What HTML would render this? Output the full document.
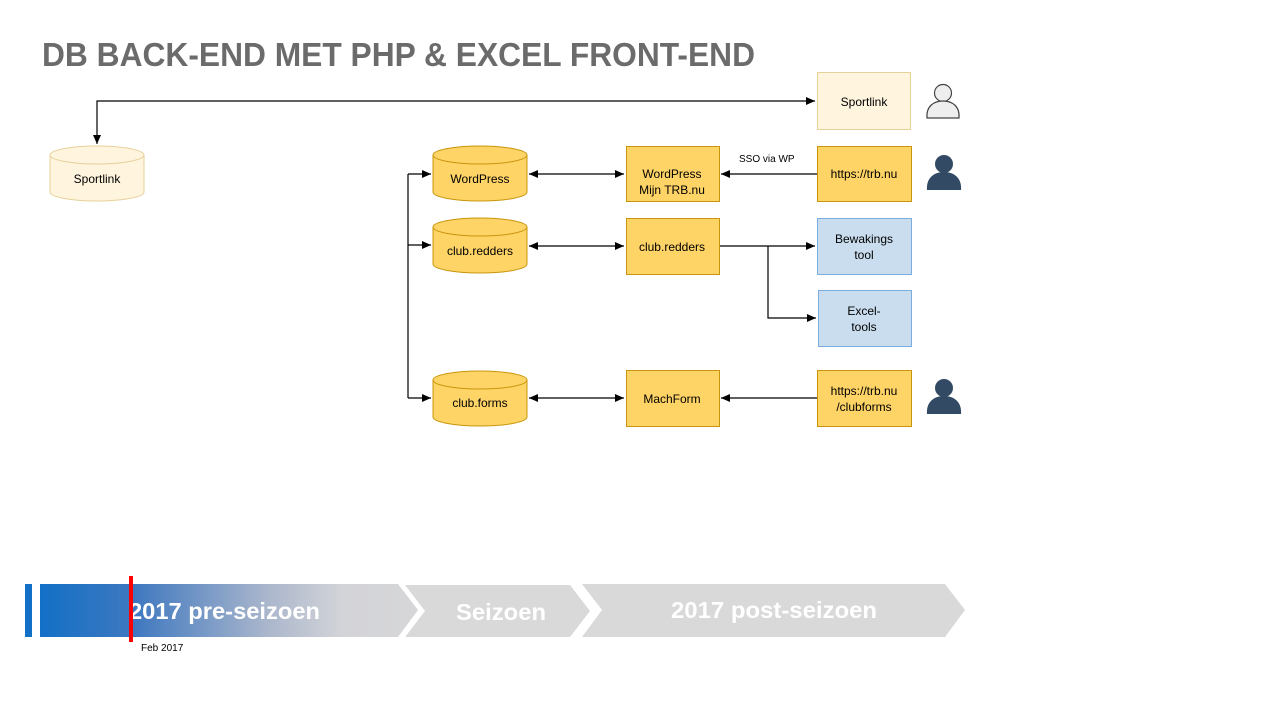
<!DOCTYPE html>
<html><head><meta charset="utf-8"><style>
html,body{margin:0;padding:0;background:#fff;}
svg{display:block;font-family:"Liberation Sans",sans-serif;}
</style></head><body>
<svg width="1280" height="720" viewBox="0 0 1280 720" xmlns="http://www.w3.org/2000/svg">
<defs>
<marker id="a" markerWidth="10" markerHeight="8" refX="9" refY="4" orient="auto-start-reverse" markerUnits="userSpaceOnUse"><path d="M0,0 L9,4 L0,8 Z" fill="#000"/></marker>
<linearGradient id="g" x1="0" x2="1" y1="0" y2="0">
<stop offset="0" stop-color="#1270c6"/><stop offset="0.25" stop-color="#3f78c0"/><stop offset="0.6" stop-color="#aab6cc"/><stop offset="0.8" stop-color="#d3d4d8"/><stop offset="1" stop-color="#d6d6d8"/></linearGradient>
</defs>
<text x="42" y="66" font-size="33" font-weight="bold" fill="#6b6b6b" textLength="713" lengthAdjust="spacingAndGlyphs">DB BACK-END MET PHP &amp; EXCEL FRONT-END</text>

<g stroke="#000" stroke-width="1.2" fill="none">
<path d="M97,144 L97,101 L815,101" marker-start="url(#a)" marker-end="url(#a)"/>
<path d="M408,174 L408,398"/>
<path d="M408,174 L431,174" marker-end="url(#a)"/>
<path d="M408,245 L431,245" marker-end="url(#a)"/>
<path d="M408,398 L431,398" marker-end="url(#a)"/>
<path d="M529,174 L624,174" marker-start="url(#a)" marker-end="url(#a)"/>
<path d="M529,246 L624,246" marker-start="url(#a)" marker-end="url(#a)"/>
<path d="M529,398 L624,398" marker-start="url(#a)" marker-end="url(#a)"/>
<path d="M817,174 L721,174" marker-end="url(#a)"/>
<path d="M817,398 L721,398" marker-end="url(#a)"/>
<path d="M719,246 L815,246" marker-end="url(#a)"/>
<path d="M768,246 L768,318 L816,318" marker-end="url(#a)"/>
</g>
<text x="739" y="162" font-size="10" fill="#000">SSO  via WP</text>

<g stroke-width="1">
<g fill="#fff4dd" stroke="#e6d199">
<path d="M50,155 L50,192 A47,9 0 0 0 144,192 L144,155 A47,9 0 0 0 50,155 Z"/>
<path d="M50,155 A47,9 0 0 0 144,155"/>
</g>
<g fill="#ffd466" stroke="#c8950c">
<path d="M433,155 L433,192 A47,9 0 0 0 527,192 L527,155 A47,9 0 0 0 433,155 Z"/>
<path d="M433,155 A47,9 0 0 0 527,155"/>
<path d="M433,227 L433,264 A47,9 0 0 0 527,264 L527,227 A47,9 0 0 0 433,227 Z"/>
<path d="M433,227 A47,9 0 0 0 527,227"/>
<path d="M433,380 L433,417 A47,9 0 0 0 527,417 L527,380 A47,9 0 0 0 433,380 Z"/>
<path d="M433,380 A47,9 0 0 0 527,380"/>
</g>
<rect x="817.5" y="72.5" width="93" height="57" fill="#fff4dd" stroke="#e6d199"/>
<g fill="#ffd466" stroke="#c8950c">
<rect x="626.5" y="146.5" width="93" height="55"/>
<rect x="626.5" y="218.5" width="93" height="56"/>
<rect x="626.5" y="370.5" width="93" height="56"/>
<rect x="817.5" y="146.5" width="94" height="55"/>
<rect x="817.5" y="370.5" width="94" height="56"/>
</g>
<g fill="#c9ddee" stroke="#7aaee0">
<rect x="817.5" y="218.5" width="94" height="56"/>
<rect x="818.5" y="290.5" width="93" height="56"/>
</g>
</g>
<g font-size="12" fill="#000" text-anchor="middle">
<text x="97" y="183">Sportlink</text>
<text x="480" y="183">WordPress</text>
<text x="480" y="255">club.redders</text>
<text x="480" y="407">club.forms</text>
<text x="864" y="106">Sportlink</text>
<text x="672" y="178">WordPress</text>
<text x="672" y="194">Mijn TRB.nu</text>
<text x="672" y="251">club.redders</text>
<text x="672" y="403">MachForm</text>
<text x="864" y="178">https://trb.nu</text>
<text x="864" y="243">Bewakings</text>
<text x="864" y="259">tool</text>
<text x="864" y="315">Excel-</text>
<text x="864" y="331">tools</text>
<text x="864" y="395">https://trb.nu</text>
<text x="864" y="411">/clubforms</text>
</g>

<g fill="#eeeeee" stroke="#444" stroke-width="1.2">
<circle cx="943" cy="93" r="8.5"/>
<path d="M927,118 C926,106 934,101 943,101 C952,101 960,106 959,118 Z"/>
</g>
<g fill="#324a63">
<circle cx="944" cy="164" r="9"/>
<path d="M927,190 C926,178 934,172 944,172 C954,172 962,178 961,190 Z"/>
<circle cx="944" cy="388" r="9"/>
<path d="M927,414 C926,402 934,396 944,396 C954,396 962,402 961,414 Z"/>
</g>

<rect x="25" y="584" width="7" height="53" fill="#1270c6"/>
<path d="M40,584 L398,584 L418,610 L398,637 L40,637 Z" fill="url(#g)"/>
<path d="M405,585 L570,585 L590,611 L570,637 L405,637 L425,611 Z" fill="#d9d9d9"/>
<path d="M582,584 L945,584 L965,610 L945,637 L582,637 L602,610 Z" fill="#d9d9d9"/>
<g fill="#fff" font-weight="bold" font-size="23">
<text x="129" y="619" textLength="191" lengthAdjust="spacingAndGlyphs">2017 pre-seizoen</text>
<text x="456" y="620" textLength="90" lengthAdjust="spacingAndGlyphs">Seizoen</text>
<text x="671" y="618" textLength="206" lengthAdjust="spacingAndGlyphs">2017 post-seizoen</text>
</g>
<rect x="129" y="576" width="4" height="66" fill="#ff0000"/>
<text x="141" y="651" font-size="10" fill="#000">Feb 2017</text>
</svg>
</body></html>
